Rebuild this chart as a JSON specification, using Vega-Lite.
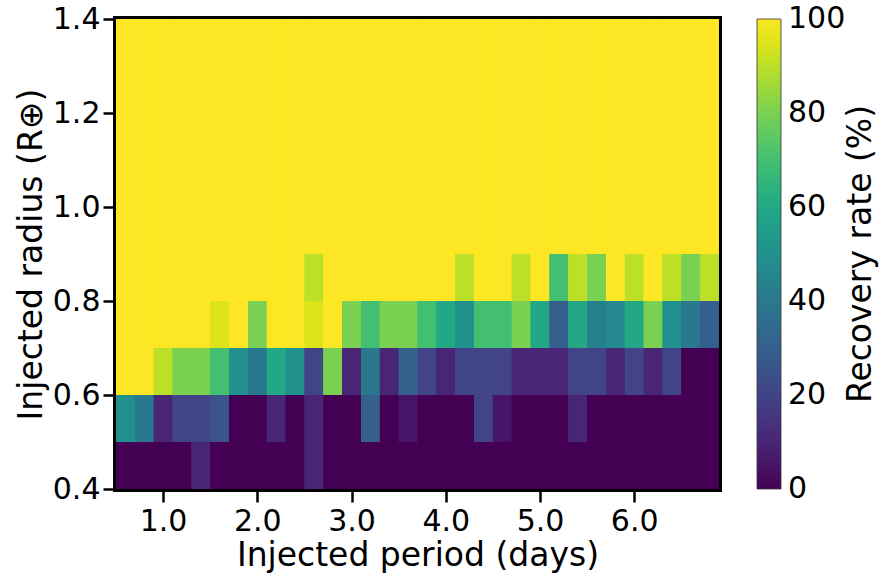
{
  "$schema": "https://vega.github.io/schema/vega-lite/v6.json",
  "width": 603,
  "height": 470,
  "autosize": "none",
  "padding": {"left": 116, "top": 19, "right": 161, "bottom": 85},
  "background": "white",
  "config": {
    "font": "DejaVu Sans",
    "view": {"stroke": "black", "strokeWidth": 6, "fill": "#fde725"},
    "axis": {"labelFont": "DejaVu Sans", "titleFont": "DejaVu Sans", "labelColor": "black", "titleColor": "black", "tickColor": "black", "titleFontWeight": "normal", "grid": false, "domain": false, "labelFontSize": 30, "titleFontSize": 33, "tickSize": 13, "tickWidth": 2.5}
  },
  "data": {"values": [
    {"p":0.5,"p2":0.7,"r":0.4,"r2":0.5,"v":0},{"p":0.7,"p2":0.9,"r":0.4,"r2":0.5,"v":0},{"p":0.9,"p2":1.1,"r":0.4,"r2":0.5,"v":0},{"p":1.1,"p2":1.3,"r":0.4,"r2":0.5,"v":0},
    {"p":1.3,"p2":1.5,"r":0.4,"r2":0.5,"v":10},{"p":1.5,"p2":1.7,"r":0.4,"r2":0.5,"v":0},{"p":1.7,"p2":1.9,"r":0.4,"r2":0.5,"v":0},{"p":1.9,"p2":2.1,"r":0.4,"r2":0.5,"v":0},
    {"p":2.1,"p2":2.3,"r":0.4,"r2":0.5,"v":0},{"p":2.3,"p2":2.5,"r":0.4,"r2":0.5,"v":0},{"p":2.5,"p2":2.7,"r":0.4,"r2":0.5,"v":10},{"p":2.7,"p2":2.9,"r":0.4,"r2":0.5,"v":0},
    {"p":2.9,"p2":3.1,"r":0.4,"r2":0.5,"v":0},{"p":3.1,"p2":3.3,"r":0.4,"r2":0.5,"v":0},{"p":3.3,"p2":3.5,"r":0.4,"r2":0.5,"v":0},{"p":3.5,"p2":3.7,"r":0.4,"r2":0.5,"v":0},
    {"p":3.7,"p2":3.9,"r":0.4,"r2":0.5,"v":0},{"p":3.9,"p2":4.1,"r":0.4,"r2":0.5,"v":0},{"p":4.1,"p2":4.3,"r":0.4,"r2":0.5,"v":0},{"p":4.3,"p2":4.5,"r":0.4,"r2":0.5,"v":0},
    {"p":4.5,"p2":4.7,"r":0.4,"r2":0.5,"v":0},{"p":4.7,"p2":4.9,"r":0.4,"r2":0.5,"v":0},{"p":4.9,"p2":5.1,"r":0.4,"r2":0.5,"v":0},{"p":5.1,"p2":5.3,"r":0.4,"r2":0.5,"v":0},
    {"p":5.3,"p2":5.5,"r":0.4,"r2":0.5,"v":0},{"p":5.5,"p2":5.7,"r":0.4,"r2":0.5,"v":0},{"p":5.7,"p2":5.9,"r":0.4,"r2":0.5,"v":0},{"p":5.9,"p2":6.1,"r":0.4,"r2":0.5,"v":0},
    {"p":6.1,"p2":6.3,"r":0.4,"r2":0.5,"v":0},{"p":6.3,"p2":6.5,"r":0.4,"r2":0.5,"v":0},{"p":6.5,"p2":6.7,"r":0.4,"r2":0.5,"v":0},{"p":6.7,"p2":6.9,"r":0.4,"r2":0.5,"v":0},

    {"p":0.5,"p2":0.7,"r":0.5,"r2":0.6,"v":50},{"p":0.7,"p2":0.9,"r":0.5,"r2":0.6,"v":40},{"p":0.9,"p2":1.1,"r":0.5,"r2":0.6,"v":10},{"p":1.1,"p2":1.3,"r":0.5,"r2":0.6,"v":20},
    {"p":1.3,"p2":1.5,"r":0.5,"r2":0.6,"v":20},{"p":1.5,"p2":1.7,"r":0.5,"r2":0.6,"v":25},{"p":1.7,"p2":1.9,"r":0.5,"r2":0.6,"v":0},{"p":1.9,"p2":2.1,"r":0.5,"r2":0.6,"v":0},
    {"p":2.1,"p2":2.3,"r":0.5,"r2":0.6,"v":10},{"p":2.3,"p2":2.5,"r":0.5,"r2":0.6,"v":0},{"p":2.5,"p2":2.7,"r":0.5,"r2":0.6,"v":10},{"p":2.7,"p2":2.9,"r":0.5,"r2":0.6,"v":0},
    {"p":2.9,"p2":3.1,"r":0.5,"r2":0.6,"v":0},{"p":3.1,"p2":3.3,"r":0.5,"r2":0.6,"v":30},{"p":3.3,"p2":3.5,"r":0.5,"r2":0.6,"v":0},{"p":3.5,"p2":3.7,"r":0.5,"r2":0.6,"v":5},
    {"p":3.7,"p2":3.9,"r":0.5,"r2":0.6,"v":0},{"p":3.9,"p2":4.1,"r":0.5,"r2":0.6,"v":0},{"p":4.1,"p2":4.3,"r":0.5,"r2":0.6,"v":0},{"p":4.3,"p2":4.5,"r":0.5,"r2":0.6,"v":20},
    {"p":4.5,"p2":4.7,"r":0.5,"r2":0.6,"v":5},{"p":4.7,"p2":4.9,"r":0.5,"r2":0.6,"v":0},{"p":4.9,"p2":5.1,"r":0.5,"r2":0.6,"v":0},{"p":5.1,"p2":5.3,"r":0.5,"r2":0.6,"v":0},
    {"p":5.3,"p2":5.5,"r":0.5,"r2":0.6,"v":10},{"p":5.5,"p2":5.7,"r":0.5,"r2":0.6,"v":0},{"p":5.7,"p2":5.9,"r":0.5,"r2":0.6,"v":0},{"p":5.9,"p2":6.1,"r":0.5,"r2":0.6,"v":0},
    {"p":6.1,"p2":6.3,"r":0.5,"r2":0.6,"v":0},{"p":6.3,"p2":6.5,"r":0.5,"r2":0.6,"v":0},{"p":6.5,"p2":6.7,"r":0.5,"r2":0.6,"v":0},{"p":6.7,"p2":6.9,"r":0.5,"r2":0.6,"v":0},

    {"p":0.5,"p2":0.7,"r":0.6,"r2":0.7,"v":100},{"p":0.7,"p2":0.9,"r":0.6,"r2":0.7,"v":100},{"p":0.9,"p2":1.1,"r":0.6,"r2":0.7,"v":90},{"p":1.1,"p2":1.3,"r":0.6,"r2":0.7,"v":80},
    {"p":1.3,"p2":1.5,"r":0.6,"r2":0.7,"v":80},{"p":1.5,"p2":1.7,"r":0.6,"r2":0.7,"v":70},{"p":1.7,"p2":1.9,"r":0.6,"r2":0.7,"v":50},{"p":1.9,"p2":2.1,"r":0.6,"r2":0.7,"v":40},
    {"p":2.1,"p2":2.3,"r":0.6,"r2":0.7,"v":60},{"p":2.3,"p2":2.5,"r":0.6,"r2":0.7,"v":50},{"p":2.5,"p2":2.7,"r":0.6,"r2":0.7,"v":20},{"p":2.7,"p2":2.9,"r":0.6,"r2":0.7,"v":80},
    {"p":2.9,"p2":3.1,"r":0.6,"r2":0.7,"v":10},{"p":3.1,"p2":3.3,"r":0.6,"r2":0.7,"v":40},{"p":3.3,"p2":3.5,"r":0.6,"r2":0.7,"v":10},{"p":3.5,"p2":3.7,"r":0.6,"r2":0.7,"v":30},
    {"p":3.7,"p2":3.9,"r":0.6,"r2":0.7,"v":20},{"p":3.9,"p2":4.1,"r":0.6,"r2":0.7,"v":10},{"p":4.1,"p2":4.3,"r":0.6,"r2":0.7,"v":20},{"p":4.3,"p2":4.5,"r":0.6,"r2":0.7,"v":20},
    {"p":4.5,"p2":4.7,"r":0.6,"r2":0.7,"v":20},{"p":4.7,"p2":4.9,"r":0.6,"r2":0.7,"v":10},{"p":4.9,"p2":5.1,"r":0.6,"r2":0.7,"v":10},{"p":5.1,"p2":5.3,"r":0.6,"r2":0.7,"v":10},
    {"p":5.3,"p2":5.5,"r":0.6,"r2":0.7,"v":20},{"p":5.5,"p2":5.7,"r":0.6,"r2":0.7,"v":20},{"p":5.7,"p2":5.9,"r":0.6,"r2":0.7,"v":10},{"p":5.9,"p2":6.1,"r":0.6,"r2":0.7,"v":20},
    {"p":6.1,"p2":6.3,"r":0.6,"r2":0.7,"v":10},{"p":6.3,"p2":6.5,"r":0.6,"r2":0.7,"v":20},{"p":6.5,"p2":6.7,"r":0.6,"r2":0.7,"v":0},{"p":6.7,"p2":6.9,"r":0.6,"r2":0.7,"v":0},

    {"p":0.5,"p2":0.7,"r":0.7,"r2":0.8,"v":100},{"p":0.7,"p2":0.9,"r":0.7,"r2":0.8,"v":100},{"p":0.9,"p2":1.1,"r":0.7,"r2":0.8,"v":100},{"p":1.1,"p2":1.3,"r":0.7,"r2":0.8,"v":100},
    {"p":1.3,"p2":1.5,"r":0.7,"r2":0.8,"v":100},{"p":1.5,"p2":1.7,"r":0.7,"r2":0.8,"v":95},{"p":1.7,"p2":1.9,"r":0.7,"r2":0.8,"v":100},{"p":1.9,"p2":2.1,"r":0.7,"r2":0.8,"v":80},
    {"p":2.1,"p2":2.3,"r":0.7,"r2":0.8,"v":100},{"p":2.3,"p2":2.5,"r":0.7,"r2":0.8,"v":100},{"p":2.5,"p2":2.7,"r":0.7,"r2":0.8,"v":95},{"p":2.7,"p2":2.9,"r":0.7,"r2":0.8,"v":100},
    {"p":2.9,"p2":3.1,"r":0.7,"r2":0.8,"v":80},{"p":3.1,"p2":3.3,"r":0.7,"r2":0.8,"v":70},{"p":3.3,"p2":3.5,"r":0.7,"r2":0.8,"v":80},{"p":3.5,"p2":3.7,"r":0.7,"r2":0.8,"v":80},
    {"p":3.7,"p2":3.9,"r":0.7,"r2":0.8,"v":70},{"p":3.9,"p2":4.1,"r":0.7,"r2":0.8,"v":60},{"p":4.1,"p2":4.3,"r":0.7,"r2":0.8,"v":50},{"p":4.3,"p2":4.5,"r":0.7,"r2":0.8,"v":70},
    {"p":4.5,"p2":4.7,"r":0.7,"r2":0.8,"v":70},{"p":4.7,"p2":4.9,"r":0.7,"r2":0.8,"v":80},{"p":4.9,"p2":5.1,"r":0.7,"r2":0.8,"v":60},{"p":5.1,"p2":5.3,"r":0.7,"r2":0.8,"v":30},
    {"p":5.3,"p2":5.5,"r":0.7,"r2":0.8,"v":60},{"p":5.5,"p2":5.7,"r":0.7,"r2":0.8,"v":43},{"p":5.7,"p2":5.9,"r":0.7,"r2":0.8,"v":47},{"p":5.9,"p2":6.1,"r":0.7,"r2":0.8,"v":60},
    {"p":6.1,"p2":6.3,"r":0.7,"r2":0.8,"v":80},{"p":6.3,"p2":6.5,"r":0.7,"r2":0.8,"v":50},{"p":6.5,"p2":6.7,"r":0.7,"r2":0.8,"v":40},{"p":6.7,"p2":6.9,"r":0.7,"r2":0.8,"v":30},

    {"p":0.5,"p2":0.7,"r":0.8,"r2":0.9,"v":100},{"p":0.7,"p2":0.9,"r":0.8,"r2":0.9,"v":100},{"p":0.9,"p2":1.1,"r":0.8,"r2":0.9,"v":100},{"p":1.1,"p2":1.3,"r":0.8,"r2":0.9,"v":100},
    {"p":1.3,"p2":1.5,"r":0.8,"r2":0.9,"v":100},{"p":1.5,"p2":1.7,"r":0.8,"r2":0.9,"v":100},{"p":1.7,"p2":1.9,"r":0.8,"r2":0.9,"v":100},{"p":1.9,"p2":2.1,"r":0.8,"r2":0.9,"v":100},
    {"p":2.1,"p2":2.3,"r":0.8,"r2":0.9,"v":100},{"p":2.3,"p2":2.5,"r":0.8,"r2":0.9,"v":100},{"p":2.5,"p2":2.7,"r":0.8,"r2":0.9,"v":90},{"p":2.7,"p2":2.9,"r":0.8,"r2":0.9,"v":100},
    {"p":2.9,"p2":3.1,"r":0.8,"r2":0.9,"v":100},{"p":3.1,"p2":3.3,"r":0.8,"r2":0.9,"v":100},{"p":3.3,"p2":3.5,"r":0.8,"r2":0.9,"v":100},{"p":3.5,"p2":3.7,"r":0.8,"r2":0.9,"v":100},
    {"p":3.7,"p2":3.9,"r":0.8,"r2":0.9,"v":100},{"p":3.9,"p2":4.1,"r":0.8,"r2":0.9,"v":100},{"p":4.1,"p2":4.3,"r":0.8,"r2":0.9,"v":90},{"p":4.3,"p2":4.5,"r":0.8,"r2":0.9,"v":100},
    {"p":4.5,"p2":4.7,"r":0.8,"r2":0.9,"v":100},{"p":4.7,"p2":4.9,"r":0.8,"r2":0.9,"v":90},{"p":4.9,"p2":5.1,"r":0.8,"r2":0.9,"v":100},{"p":5.1,"p2":5.3,"r":0.8,"r2":0.9,"v":70},
    {"p":5.3,"p2":5.5,"r":0.8,"r2":0.9,"v":90},{"p":5.5,"p2":5.7,"r":0.8,"r2":0.9,"v":80},{"p":5.7,"p2":5.9,"r":0.8,"r2":0.9,"v":100},{"p":5.9,"p2":6.1,"r":0.8,"r2":0.9,"v":90},
    {"p":6.1,"p2":6.3,"r":0.8,"r2":0.9,"v":100},{"p":6.3,"p2":6.5,"r":0.8,"r2":0.9,"v":90},{"p":6.5,"p2":6.7,"r":0.8,"r2":0.9,"v":80},{"p":6.7,"p2":6.9,"r":0.8,"r2":0.9,"v":90},

    {"p":0.5,"p2":0.7,"r":0.9,"r2":1.0,"v":100},{"p":0.7,"p2":0.9,"r":0.9,"r2":1.0,"v":100},{"p":0.9,"p2":1.1,"r":0.9,"r2":1.0,"v":100},{"p":1.1,"p2":1.3,"r":0.9,"r2":1.0,"v":100},
    {"p":1.3,"p2":1.5,"r":0.9,"r2":1.0,"v":100},{"p":1.5,"p2":1.7,"r":0.9,"r2":1.0,"v":100},{"p":1.7,"p2":1.9,"r":0.9,"r2":1.0,"v":100},{"p":1.9,"p2":2.1,"r":0.9,"r2":1.0,"v":100},
    {"p":2.1,"p2":2.3,"r":0.9,"r2":1.0,"v":100},{"p":2.3,"p2":2.5,"r":0.9,"r2":1.0,"v":100},{"p":2.5,"p2":2.7,"r":0.9,"r2":1.0,"v":100},{"p":2.7,"p2":2.9,"r":0.9,"r2":1.0,"v":100},
    {"p":2.9,"p2":3.1,"r":0.9,"r2":1.0,"v":100},{"p":3.1,"p2":3.3,"r":0.9,"r2":1.0,"v":100},{"p":3.3,"p2":3.5,"r":0.9,"r2":1.0,"v":100},{"p":3.5,"p2":3.7,"r":0.9,"r2":1.0,"v":100},
    {"p":3.7,"p2":3.9,"r":0.9,"r2":1.0,"v":100},{"p":3.9,"p2":4.1,"r":0.9,"r2":1.0,"v":100},{"p":4.1,"p2":4.3,"r":0.9,"r2":1.0,"v":100},{"p":4.3,"p2":4.5,"r":0.9,"r2":1.0,"v":100},
    {"p":4.5,"p2":4.7,"r":0.9,"r2":1.0,"v":100},{"p":4.7,"p2":4.9,"r":0.9,"r2":1.0,"v":100},{"p":4.9,"p2":5.1,"r":0.9,"r2":1.0,"v":100},{"p":5.1,"p2":5.3,"r":0.9,"r2":1.0,"v":100},
    {"p":5.3,"p2":5.5,"r":0.9,"r2":1.0,"v":100},{"p":5.5,"p2":5.7,"r":0.9,"r2":1.0,"v":100},{"p":5.7,"p2":5.9,"r":0.9,"r2":1.0,"v":100},{"p":5.9,"p2":6.1,"r":0.9,"r2":1.0,"v":100},
    {"p":6.1,"p2":6.3,"r":0.9,"r2":1.0,"v":100},{"p":6.3,"p2":6.5,"r":0.9,"r2":1.0,"v":100},{"p":6.5,"p2":6.7,"r":0.9,"r2":1.0,"v":100},{"p":6.7,"p2":6.9,"r":0.9,"r2":1.0,"v":100},

    {"p":0.5,"p2":0.7,"r":1.0,"r2":1.1,"v":100},{"p":0.7,"p2":0.9,"r":1.0,"r2":1.1,"v":100},{"p":0.9,"p2":1.1,"r":1.0,"r2":1.1,"v":100},{"p":1.1,"p2":1.3,"r":1.0,"r2":1.1,"v":100},
    {"p":1.3,"p2":1.5,"r":1.0,"r2":1.1,"v":100},{"p":1.5,"p2":1.7,"r":1.0,"r2":1.1,"v":100},{"p":1.7,"p2":1.9,"r":1.0,"r2":1.1,"v":100},{"p":1.9,"p2":2.1,"r":1.0,"r2":1.1,"v":100},
    {"p":2.1,"p2":2.3,"r":1.0,"r2":1.1,"v":100},{"p":2.3,"p2":2.5,"r":1.0,"r2":1.1,"v":100},{"p":2.5,"p2":2.7,"r":1.0,"r2":1.1,"v":100},{"p":2.7,"p2":2.9,"r":1.0,"r2":1.1,"v":100},
    {"p":2.9,"p2":3.1,"r":1.0,"r2":1.1,"v":100},{"p":3.1,"p2":3.3,"r":1.0,"r2":1.1,"v":100},{"p":3.3,"p2":3.5,"r":1.0,"r2":1.1,"v":100},{"p":3.5,"p2":3.7,"r":1.0,"r2":1.1,"v":100},
    {"p":3.7,"p2":3.9,"r":1.0,"r2":1.1,"v":100},{"p":3.9,"p2":4.1,"r":1.0,"r2":1.1,"v":100},{"p":4.1,"p2":4.3,"r":1.0,"r2":1.1,"v":100},{"p":4.3,"p2":4.5,"r":1.0,"r2":1.1,"v":100},
    {"p":4.5,"p2":4.7,"r":1.0,"r2":1.1,"v":100},{"p":4.7,"p2":4.9,"r":1.0,"r2":1.1,"v":100},{"p":4.9,"p2":5.1,"r":1.0,"r2":1.1,"v":100},{"p":5.1,"p2":5.3,"r":1.0,"r2":1.1,"v":100},
    {"p":5.3,"p2":5.5,"r":1.0,"r2":1.1,"v":100},{"p":5.5,"p2":5.7,"r":1.0,"r2":1.1,"v":100},{"p":5.7,"p2":5.9,"r":1.0,"r2":1.1,"v":100},{"p":5.9,"p2":6.1,"r":1.0,"r2":1.1,"v":100},
    {"p":6.1,"p2":6.3,"r":1.0,"r2":1.1,"v":100},{"p":6.3,"p2":6.5,"r":1.0,"r2":1.1,"v":100},{"p":6.5,"p2":6.7,"r":1.0,"r2":1.1,"v":100},{"p":6.7,"p2":6.9,"r":1.0,"r2":1.1,"v":100},

    {"p":0.5,"p2":0.7,"r":1.1,"r2":1.2,"v":100},{"p":0.7,"p2":0.9,"r":1.1,"r2":1.2,"v":100},{"p":0.9,"p2":1.1,"r":1.1,"r2":1.2,"v":100},{"p":1.1,"p2":1.3,"r":1.1,"r2":1.2,"v":100},
    {"p":1.3,"p2":1.5,"r":1.1,"r2":1.2,"v":100},{"p":1.5,"p2":1.7,"r":1.1,"r2":1.2,"v":100},{"p":1.7,"p2":1.9,"r":1.1,"r2":1.2,"v":100},{"p":1.9,"p2":2.1,"r":1.1,"r2":1.2,"v":100},
    {"p":2.1,"p2":2.3,"r":1.1,"r2":1.2,"v":100},{"p":2.3,"p2":2.5,"r":1.1,"r2":1.2,"v":100},{"p":2.5,"p2":2.7,"r":1.1,"r2":1.2,"v":100},{"p":2.7,"p2":2.9,"r":1.1,"r2":1.2,"v":100},
    {"p":2.9,"p2":3.1,"r":1.1,"r2":1.2,"v":100},{"p":3.1,"p2":3.3,"r":1.1,"r2":1.2,"v":100},{"p":3.3,"p2":3.5,"r":1.1,"r2":1.2,"v":100},{"p":3.5,"p2":3.7,"r":1.1,"r2":1.2,"v":100},
    {"p":3.7,"p2":3.9,"r":1.1,"r2":1.2,"v":100},{"p":3.9,"p2":4.1,"r":1.1,"r2":1.2,"v":100},{"p":4.1,"p2":4.3,"r":1.1,"r2":1.2,"v":100},{"p":4.3,"p2":4.5,"r":1.1,"r2":1.2,"v":100},
    {"p":4.5,"p2":4.7,"r":1.1,"r2":1.2,"v":100},{"p":4.7,"p2":4.9,"r":1.1,"r2":1.2,"v":100},{"p":4.9,"p2":5.1,"r":1.1,"r2":1.2,"v":100},{"p":5.1,"p2":5.3,"r":1.1,"r2":1.2,"v":100},
    {"p":5.3,"p2":5.5,"r":1.1,"r2":1.2,"v":100},{"p":5.5,"p2":5.7,"r":1.1,"r2":1.2,"v":100},{"p":5.7,"p2":5.9,"r":1.1,"r2":1.2,"v":100},{"p":5.9,"p2":6.1,"r":1.1,"r2":1.2,"v":100},
    {"p":6.1,"p2":6.3,"r":1.1,"r2":1.2,"v":100},{"p":6.3,"p2":6.5,"r":1.1,"r2":1.2,"v":100},{"p":6.5,"p2":6.7,"r":1.1,"r2":1.2,"v":100},{"p":6.7,"p2":6.9,"r":1.1,"r2":1.2,"v":100},

    {"p":0.5,"p2":0.7,"r":1.2,"r2":1.3,"v":100},{"p":0.7,"p2":0.9,"r":1.2,"r2":1.3,"v":100},{"p":0.9,"p2":1.1,"r":1.2,"r2":1.3,"v":100},{"p":1.1,"p2":1.3,"r":1.2,"r2":1.3,"v":100},
    {"p":1.3,"p2":1.5,"r":1.2,"r2":1.3,"v":100},{"p":1.5,"p2":1.7,"r":1.2,"r2":1.3,"v":100},{"p":1.7,"p2":1.9,"r":1.2,"r2":1.3,"v":100},{"p":1.9,"p2":2.1,"r":1.2,"r2":1.3,"v":100},
    {"p":2.1,"p2":2.3,"r":1.2,"r2":1.3,"v":100},{"p":2.3,"p2":2.5,"r":1.2,"r2":1.3,"v":100},{"p":2.5,"p2":2.7,"r":1.2,"r2":1.3,"v":100},{"p":2.7,"p2":2.9,"r":1.2,"r2":1.3,"v":100},
    {"p":2.9,"p2":3.1,"r":1.2,"r2":1.3,"v":100},{"p":3.1,"p2":3.3,"r":1.2,"r2":1.3,"v":100},{"p":3.3,"p2":3.5,"r":1.2,"r2":1.3,"v":100},{"p":3.5,"p2":3.7,"r":1.2,"r2":1.3,"v":100},
    {"p":3.7,"p2":3.9,"r":1.2,"r2":1.3,"v":100},{"p":3.9,"p2":4.1,"r":1.2,"r2":1.3,"v":100},{"p":4.1,"p2":4.3,"r":1.2,"r2":1.3,"v":100},{"p":4.3,"p2":4.5,"r":1.2,"r2":1.3,"v":100},
    {"p":4.5,"p2":4.7,"r":1.2,"r2":1.3,"v":100},{"p":4.7,"p2":4.9,"r":1.2,"r2":1.3,"v":100},{"p":4.9,"p2":5.1,"r":1.2,"r2":1.3,"v":100},{"p":5.1,"p2":5.3,"r":1.2,"r2":1.3,"v":100},
    {"p":5.3,"p2":5.5,"r":1.2,"r2":1.3,"v":100},{"p":5.5,"p2":5.7,"r":1.2,"r2":1.3,"v":100},{"p":5.7,"p2":5.9,"r":1.2,"r2":1.3,"v":100},{"p":5.9,"p2":6.1,"r":1.2,"r2":1.3,"v":100},
    {"p":6.1,"p2":6.3,"r":1.2,"r2":1.3,"v":100},{"p":6.3,"p2":6.5,"r":1.2,"r2":1.3,"v":100},{"p":6.5,"p2":6.7,"r":1.2,"r2":1.3,"v":100},{"p":6.7,"p2":6.9,"r":1.2,"r2":1.3,"v":100},

    {"p":0.5,"p2":0.7,"r":1.3,"r2":1.4,"v":100},{"p":0.7,"p2":0.9,"r":1.3,"r2":1.4,"v":100},{"p":0.9,"p2":1.1,"r":1.3,"r2":1.4,"v":100},{"p":1.1,"p2":1.3,"r":1.3,"r2":1.4,"v":100},
    {"p":1.3,"p2":1.5,"r":1.3,"r2":1.4,"v":100},{"p":1.5,"p2":1.7,"r":1.3,"r2":1.4,"v":100},{"p":1.7,"p2":1.9,"r":1.3,"r2":1.4,"v":100},{"p":1.9,"p2":2.1,"r":1.3,"r2":1.4,"v":100},
    {"p":2.1,"p2":2.3,"r":1.3,"r2":1.4,"v":100},{"p":2.3,"p2":2.5,"r":1.3,"r2":1.4,"v":100},{"p":2.5,"p2":2.7,"r":1.3,"r2":1.4,"v":100},{"p":2.7,"p2":2.9,"r":1.3,"r2":1.4,"v":100},
    {"p":2.9,"p2":3.1,"r":1.3,"r2":1.4,"v":100},{"p":3.1,"p2":3.3,"r":1.3,"r2":1.4,"v":100},{"p":3.3,"p2":3.5,"r":1.3,"r2":1.4,"v":100},{"p":3.5,"p2":3.7,"r":1.3,"r2":1.4,"v":100},
    {"p":3.7,"p2":3.9,"r":1.3,"r2":1.4,"v":100},{"p":3.9,"p2":4.1,"r":1.3,"r2":1.4,"v":100},{"p":4.1,"p2":4.3,"r":1.3,"r2":1.4,"v":100},{"p":4.3,"p2":4.5,"r":1.3,"r2":1.4,"v":100},
    {"p":4.5,"p2":4.7,"r":1.3,"r2":1.4,"v":100},{"p":4.7,"p2":4.9,"r":1.3,"r2":1.4,"v":100},{"p":4.9,"p2":5.1,"r":1.3,"r2":1.4,"v":100},{"p":5.1,"p2":5.3,"r":1.3,"r2":1.4,"v":100},
    {"p":5.3,"p2":5.5,"r":1.3,"r2":1.4,"v":100},{"p":5.5,"p2":5.7,"r":1.3,"r2":1.4,"v":100},{"p":5.7,"p2":5.9,"r":1.3,"r2":1.4,"v":100},{"p":5.9,"p2":6.1,"r":1.3,"r2":1.4,"v":100},
    {"p":6.1,"p2":6.3,"r":1.3,"r2":1.4,"v":100},{"p":6.3,"p2":6.5,"r":1.3,"r2":1.4,"v":100},{"p":6.5,"p2":6.7,"r":1.3,"r2":1.4,"v":100},{"p":6.7,"p2":6.9,"r":1.3,"r2":1.4,"v":100}
  ]},
  "encoding": {
    "x": {"field": "p", "type": "quantitative", "scale": {"domain": [0.5, 6.9], "nice": false, "zero": false},
      "axis": {"title": "Injected period (days)", "values": [1, 2, 3, 4, 5, 6], "format": ".1f", "labelPadding": 4, "titlePadding": 3}},
    "x2": {"field": "p2"},
    "y": {"field": "r", "type": "quantitative", "scale": {"domain": [0.4, 1.4], "nice": false, "zero": false},
      "axis": {"title": "Injected radius (R⊕)", "values": [0.4, 0.6, 0.8, 1.0, 1.2, 1.4], "format": ".1f", "labelPadding": 3, "titlePadding": 4}},
    "y2": {"field": "r2"},
    "color": {"field": "v", "type": "quantitative", "scale": {"scheme": "viridis", "domain": [0, 100]},
      "legend": {
        "type": "gradient",
        "title": "Recovery rate (%)",
        "orient": "right",
        "offset": 38,
        "padding": 0,
        "direction": "vertical",
        "gradientLength": 470,
        "gradientThickness": 24,
        "gradientStrokeColor": "#333333",
        "gradientStrokeWidth": 0.8,
        "values": [0, 20, 40, 60, 80, 100],
        "labelFont": "DejaVu Sans",
        "labelFontSize": 30,
        "labelColor": "black",
        "labelOffset": 7,
        "titleFont": "DejaVu Sans",
        "titleOrient": "right",
        "titleAnchor": "middle",
        "titleFontSize": 33,
        "titleFontWeight": "normal",
        "titleColor": "black",
        "titleLimit": 600,
        "titlePadding": 0,
        "encoding": {
          "title": {"angle": {"value": -90}, "baseline": {"value": "top"}},
          "labels": {"baseline": {"value": "middle"}}
        }
      }}
  },
  "layer": [
    {"mark": {"type": "rect"}},
    {"mark": {"type": "rect"}},
    {"mark": {"type": "rect"}}
  ]
}
